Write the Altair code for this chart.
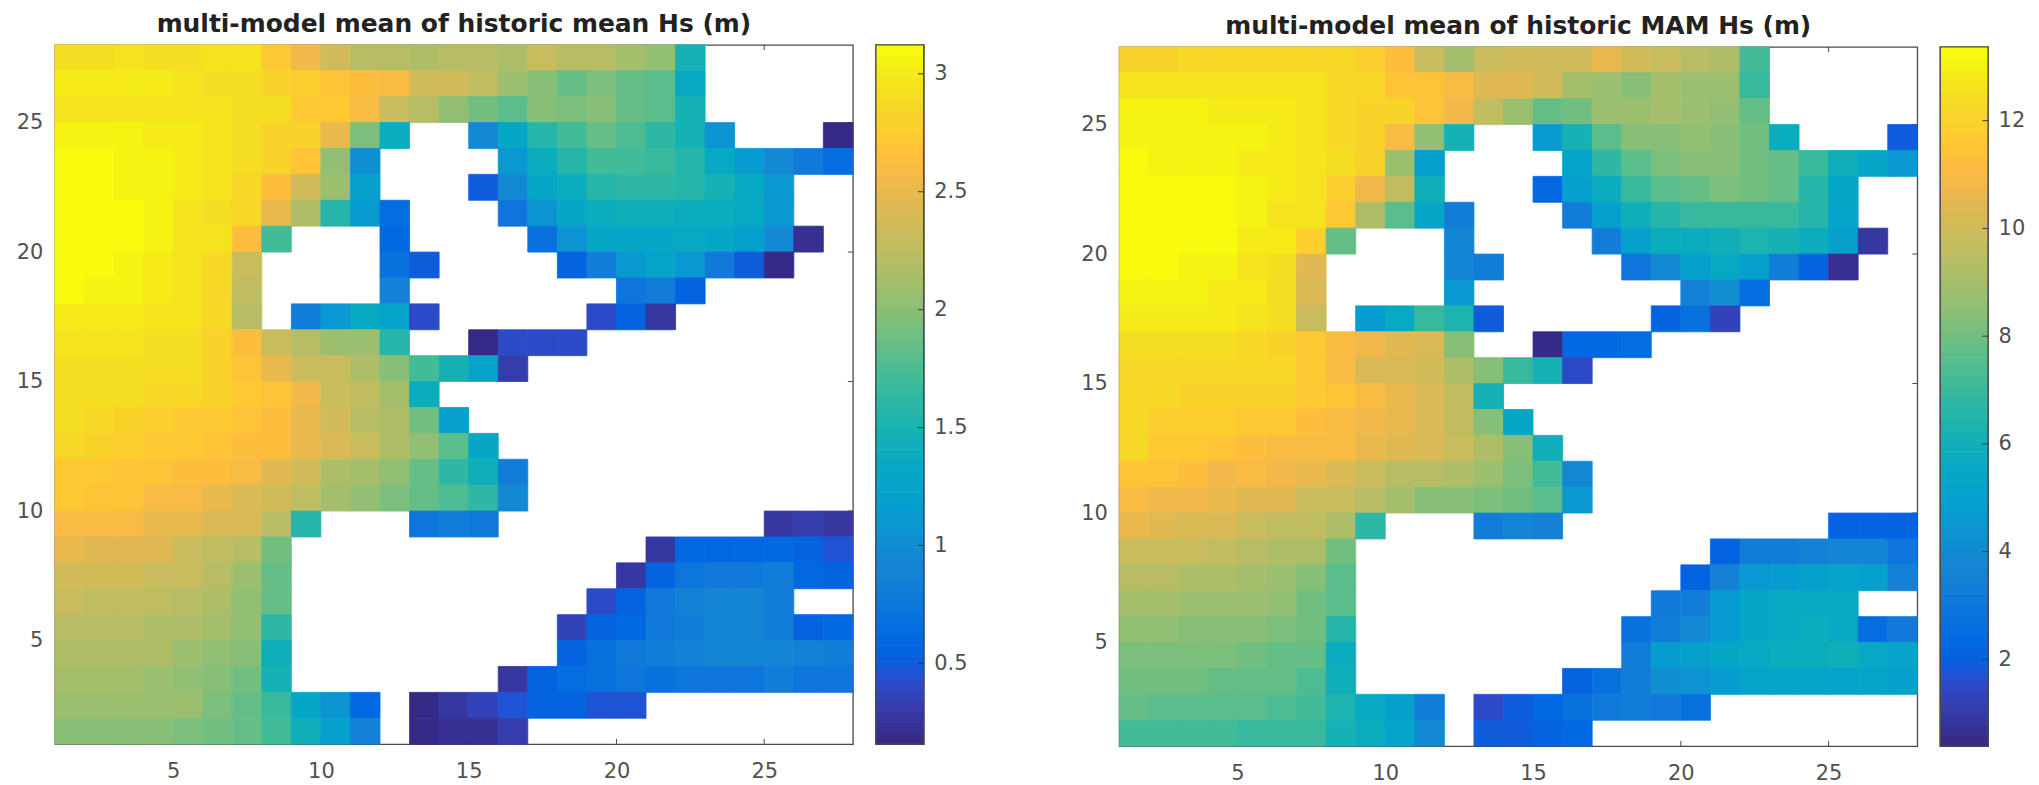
import altair as alt
import pandas as pd

N = None
NCOL = 27

# rows listed from the top of the map (y 27-28) down to the bottom (y 1-2), columns x 1-2 ... 27-28
mean_rows = [
 [2.9,2.9,2.95,2.93,2.93,2.95,2.95,2.72,2.55,2.36,2.22,2.22,2.18,2.22,2.2,2.18,2.3,2.24,2.2,2.12,2.03,1.47],
 [3,3,3,3,2.97,2.93,2.93,2.82,2.78,2.66,2.62,2.58,2.38,2.36,2.25,2.06,2.0,1.85,1.92,1.84,1.8,1.35],
 [2.98,2.98,2.98,2.98,2.97,2.95,2.93,2.9,2.72,2.72,2.6,2.33,2.2,2.05,1.88,1.8,2.0,1.96,2.0,1.85,1.8,1.47],
 [3.05,3.05,3.05,3.0,3.0,2.98,2.93,2.83,2.83,2.5,1.95,1.38,N,N,.98,1.3,1.55,1.72,1.85,1.76,1.6,1.48,1.05,N,N,N,.18],
 [3.12,3.12,3.06,3.04,3.0,2.97,2.9,2.82,2.7,2.05,1.0,N,N,N,N,1.12,1.4,1.55,1.73,1.72,1.65,1.55,1.33,1.17,.97,.78,.64],
 [3.12,3.12,3.06,3.04,3.0,2.95,2.85,2.65,2.38,2.1,1.22,N,N,N,.52,.98,1.27,1.4,1.55,1.6,1.6,1.55,1.48,1.35,1.12],
 [3.12,3.12,3.1,3.04,2.98,2.92,2.85,2.52,2.15,1.55,1.15,.66,N,N,N,.72,1.05,1.3,1.38,1.42,1.45,1.4,1.4,1.35,1.1],
 [3.12,3.12,3.08,3.05,2.97,2.95,2.65,1.73,N,N,N,.62,N,N,N,N,.68,1.08,1.28,1.3,1.3,1.33,1.3,1.18,.98,.22],
 [3.12,3.12,3.06,3.0,2.95,2.88,2.32,N,N,N,N,.68,.52,N,N,N,N,.54,.85,1.12,1.25,1.12,.76,.5,.18],
 [3.12,3.06,3.05,3.0,2.95,2.88,2.28,N,N,N,N,.88,N,N,N,N,N,N,N,.72,.82,.56],
 [3,3,3,2.95,2.95,2.88,2.22,N,.85,1.1,1.33,1.25,.4,N,N,N,N,N,.42,.54,.28],
 [2.95,2.95,2.95,2.93,2.92,2.83,2.62,2.33,2.22,2.08,2.08,1.55,N,N,.16,.4,.42,.42],
 [2.93,2.93,2.93,2.92,2.9,2.82,2.7,2.52,2.32,2.3,2.16,1.98,1.72,1.47,1.25,.32],
 [2.9,2.9,2.9,2.88,2.85,2.8,2.72,2.7,2.55,2.32,2.26,2.12,1.4],
 [2.9,2.85,2.82,2.77,2.75,2.72,2.68,2.65,2.5,2.38,2.22,2.15,1.88,1.22],
 [2.88,2.8,2.78,2.72,2.72,2.7,2.65,2.62,2.5,2.4,2.32,2.18,2.02,1.78,1.28],
 [2.74,2.74,2.7,2.7,2.65,2.65,2.58,2.45,2.34,2.18,2.12,2.03,1.86,1.62,1.42,.82],
 [2.72,2.68,2.68,2.6,2.6,2.52,2.42,2.38,2.26,2.14,2.05,1.95,1.86,1.75,1.6,.98],
 [2.6,2.6,2.6,2.52,2.5,2.42,2.4,2.2,1.55,N,N,N,.75,.82,.78,N,N,N,N,N,N,N,N,N,.28,.34,.25],
 [2.5,2.45,2.45,2.45,2.33,2.28,2.23,1.9,N,N,N,N,N,N,N,N,N,N,N,N,.27,.58,.6,.62,.62,.54,.46],
 [2.38,2.38,2.38,2.3,2.3,2.22,2.1,1.86,N,N,N,N,N,N,N,N,N,N,N,.26,.54,.72,.8,.8,.82,.6,.55],
 [2.3,2.28,2.28,2.28,2.22,2.18,2.03,1.83,N,N,N,N,N,N,N,N,N,N,.42,.55,.78,.86,.92,.92,.85],
 [2.2,2.2,2.2,2.18,2.18,2.12,2.03,1.6,N,N,N,N,N,N,N,N,N,.38,.54,.6,.76,.85,.9,.9,.82,.54,.58],
 [2.15,2.15,2.15,2.15,2.1,2.03,1.98,1.45,N,N,N,N,N,N,N,N,N,.54,.68,.78,.84,.86,.92,.92,.94,.86,.84],
 [2.12,2.12,2.12,2.06,2.05,1.98,1.88,1.5,N,N,N,N,N,N,N,.28,.56,.64,.68,.72,.7,.74,.74,.74,.82,.74,.72],
 [2.07,2.07,2.07,2.07,2.07,1.92,1.86,1.65,1.3,1.05,.6,N,.2,.26,.38,.46,.54,.54,.46,.46],
 [1.98,1.98,1.98,1.98,1.93,1.88,1.86,1.7,1.45,1.22,.88,N,.2,.24,.24,.3],
]

mam_rows = [
 [12.0,12.0,12.2,12.2,12.2,12.3,12.3,12.3,11.95,11.3,9.9,9.0,9.8,10.0,10.0,10.0,10.6,10.1,9.9,9.4,9.2,7.1],
 [12.7,12.7,12.7,12.7,12.6,12.6,12.6,12.2,12.2,11.5,11.5,11.1,10.4,10.4,10.0,9.0,8.8,8.5,9.1,8.9,8.75,6.9],
 [13.0,13.0,13.0,12.8,12.8,12.8,12.7,12.2,12.0,12.0,11.4,10.8,9.6,8.9,7.85,8.0,8.85,8.85,9.0,8.8,8.6,7.7],
 [13.0,13.0,13.0,13.15,13.15,12.9,12.6,12.3,12.0,11.1,8.55,6.2,N,N,4.7,6.2,7.6,8.35,8.5,8.55,8.3,8.0,5.85,N,N,N,2.0],
 [13.37,13.05,13.05,13.05,12.85,12.85,12.7,12.4,12.0,8.9,5.0,N,N,N,N,5.1,6.7,7.6,8.1,8.4,8.4,7.9,7.7,7.0,6.05,5.4,4.5],
 [13.37,13.37,13.37,13.37,13.1,12.95,12.6,11.8,10.9,9.6,5.9,N,N,N,2.3,5.0,5.8,7.0,7.6,7.85,8.1,7.95,7.85,6.5,5.4],
 [13.37,13.37,13.37,13.37,13.15,12.65,12.6,11.6,9.3,7.5,5.3,3.3,N,N,N,3.4,5.0,6.0,6.5,6.9,6.9,6.9,6.9,6.5,5.2],
 [13.37,13.37,13.37,13.37,12.9,12.8,11.9,7.7,N,N,N,3.7,N,N,N,N,3.3,4.9,5.7,5.7,6.0,6.4,6.25,5.8,5.0,.9],
 [13.37,13.37,13.0,13.0,12.7,12.4,10.4,N,N,N,N,3.7,3.3,N,N,N,N,2.9,4.0,5.0,5.5,5.0,3.4,2.1,.6],
 [13.0,13.0,13.0,12.8,12.8,12.5,10.3,N,N,N,N,4.6,N,N,N,N,N,N,N,3.5,4.2,2.6],
 [12.8,12.8,12.8,12.8,12.7,12.4,9.9,N,4.7,5.5,6.9,6.3,1.9,N,N,N,N,N,2.2,2.8,1.3],
 [12.5,12.5,12.5,12.5,12.3,12.1,11.7,11.05,10.8,10.4,10.2,8.3,N,N,.4,2.3,2.4,2.55],
 [12.35,12.35,12.35,12.35,12.35,12.2,11.7,11.1,10.3,10.3,10.1,9.3,8.4,7.0,6.2,1.5],
 [12.3,12.3,12.1,12.1,12.1,12.05,11.7,11.4,11.0,10.7,10.2,9.6,6.1],
 [12.3,11.8,11.8,11.8,11.6,11.6,11.2,11.1,10.9,10.7,10.2,9.7,8.4,5.4],
 [12.2,11.7,11.7,11.5,11.2,11.1,11.05,11.0,10.65,10.35,10.3,9.8,9.2,8.5,6.0],
 [11.5,11.4,11.2,10.9,10.95,10.85,10.6,10.3,9.9,9.5,9.4,9.2,8.9,8.1,7.1,4.0],
 [11.0,10.9,10.75,10.7,10.45,10.4,9.9,9.85,9.5,8.95,8.5,8.45,8.2,8.0,7.5,4.6],
 [10.7,10.5,10.2,10.2,9.9,9.7,9.7,9.2,6.8,N,N,N,3.3,3.7,3.5,N,N,N,N,N,N,N,N,N,2.2,2.2,2.1],
 [9.85,9.85,9.85,9.7,9.5,9.2,9.2,8.0,N,N,N,N,N,N,N,N,N,N,N,N,2.2,3.3,3.3,3.5,3.7,3.8,2.9],
 [9.4,9.4,9.25,9.25,9.0,8.9,8.5,7.65,N,N,N,N,N,N,N,N,N,N,N,2.1,3.5,4.6,4.7,5.0,5.2,5.0,3.6],
 [9.0,9.0,8.9,8.9,8.85,8.6,8.0,7.55,N,N,N,N,N,N,N,N,N,N,3.1,3.4,4.8,5.4,5.6,5.6,5.5],
 [8.6,8.6,8.5,8.5,8.3,8.1,8.0,6.5,N,N,N,N,N,N,N,N,N,2.8,3.3,4.0,4.8,5.3,5.5,5.7,5.5,2.5,3.2],
 [8.15,8.15,8.1,8.1,7.9,7.85,7.85,5.8,N,N,N,N,N,N,N,N,N,3.4,4.7,5.0,5.4,5.6,5.8,5.8,6.0,5.5,5.2],
 [7.9,7.9,7.9,7.8,7.8,7.75,7.3,5.9,N,N,N,N,N,N,N,2.2,2.7,3.4,4.2,4.3,4.7,5.1,5.1,5.1,5.2,5.1,4.9],
 [7.75,7.6,7.6,7.6,7.6,7.45,7.2,6.4,5.5,4.9,3.3,N,1.5,2.0,2.4,2.7,3.2,3.3,3.1,2.8],
 [7.1,7.2,7.2,7.2,7.0,7.0,6.95,6.2,5.75,5.2,4.0,N,1.85,2.0,2.1,2.3],
]

parula = [
 (0.2081,0.1663,0.5292),(0.2116,0.1898,0.5777),(0.2123,0.2138,0.6270),(0.2081,0.2386,0.6771),
 (0.1959,0.2645,0.7279),(0.1707,0.2919,0.7792),(0.1253,0.3242,0.8303),(0.0591,0.3598,0.8683),
 (0.0117,0.3875,0.8820),(0.0060,0.4086,0.8828),(0.0165,0.4266,0.8786),(0.0329,0.4430,0.8720),
 (0.0498,0.4586,0.8641),(0.0629,0.4737,0.8554),(0.0723,0.4887,0.8467),(0.0779,0.5040,0.8384),
 (0.0793,0.5200,0.8312),(0.0749,0.5375,0.8263),(0.0641,0.5570,0.8240),(0.0488,0.5772,0.8228),
 (0.0343,0.5966,0.8199),(0.0265,0.6137,0.8135),(0.0239,0.6287,0.8038),(0.0231,0.6418,0.7913),
 (0.0228,0.6535,0.7768),(0.0267,0.6642,0.7607),(0.0384,0.6743,0.7436),(0.0590,0.6838,0.7254),
 (0.0843,0.6928,0.7062),(0.1133,0.7015,0.6859),(0.1453,0.7098,0.6646),(0.1801,0.7177,0.6424),
 (0.2178,0.7250,0.6193),(0.2586,0.7317,0.5954),(0.3022,0.7376,0.5712),(0.3482,0.7424,0.5473),
 (0.3953,0.7459,0.5244),(0.4420,0.7481,0.5033),(0.4871,0.7491,0.4840),(0.5300,0.7491,0.4661),
 (0.5709,0.7485,0.4494),(0.6099,0.7473,0.4337),(0.6473,0.7456,0.4188),(0.6834,0.7435,0.4044),
 (0.7184,0.7411,0.3905),(0.7525,0.7384,0.3768),(0.7858,0.7356,0.3633),(0.8185,0.7327,0.3498),
 (0.8507,0.7299,0.3360),(0.8824,0.7274,0.3217),(0.9139,0.7258,0.3063),(0.9450,0.7261,0.2886),
 (0.9739,0.7314,0.2666),(0.9938,0.7455,0.2403),(0.9990,0.7653,0.2164),(0.9955,0.7861,0.1967),
 (0.9880,0.8066,0.1794),(0.9789,0.8271,0.1633),(0.9697,0.8481,0.1475),(0.9626,0.8705,0.1309),
 (0.9589,0.8949,0.1132),(0.9598,0.9218,0.0948),(0.9661,0.9514,0.0755),(0.9763,0.9831,0.0538),
]
PARULA = ["#%02x%02x%02x" % tuple(round(c * 255) for c in rgb) for rgb in parula]

titles = ["multi-model mean of historic mean Hs (m)", "multi-model mean of historic MAM Hs (m)"]
ranges = [(0.157, 3.123), (0.39, 13.37)]
cbar_ticks = [[0.5, 1, 1.5, 2, 2.5, 3], [2, 4, 6, 8, 10, 12]]
map_ticks = [5, 10, 15, 20, 25]

FRAME = "#4a4a4a"
LABEL = "#505050"
W, H, CBW = 800, 701, 48


def panel(rows, title, dom):
    recs = []
    for i, row in enumerate(rows):
        row = row + [N] * (NCOL - len(row))
        for j, v in enumerate(row):
            if v is not None:
                recs.append({"x": j + 1, "x2": j + 2, "y": 27 - i, "y2": 28 - i, "v": v})
    df = pd.DataFrame(recs)
    xs = alt.Scale(domain=[1, 28], nice=False, zero=False)
    ys = alt.Scale(domain=[1, 28], nice=False, zero=False)
    cs = alt.Scale(type="quantize", domain=list(dom), range=PARULA)
    xax = alt.Axis(values=map_ticks, title=None, grid=False, domain=False, ticks=False, labelPadding=16)
    yax = alt.Axis(values=map_ticks, title=None, grid=False, domain=False, ticks=False, labelPadding=12)
    tx = 0.17
    ty = 0.2
    t1 = pd.DataFrame({"p": map_ticks, "a": [1] * 5, "b": [1 + ty] * 5})
    t2 = pd.DataFrame({"p": map_ticks, "a": [28 - ty] * 5, "b": [28] * 5})
    t3 = pd.DataFrame({"p": map_ticks, "a": [28 - tx] * 5, "b": [28] * 5})
    rule = dict(color=FRAME, strokeWidth=1)
    layers = []
    for t in (t1, t2):
        layers.append(alt.Chart(t).mark_rule(**rule).encode(
            x=alt.X("p:Q", scale=xs, axis=xax), y=alt.Y("a:Q", scale=ys, axis=yax), y2="b:Q"))
    layers.append(alt.Chart(t3).mark_rule(**rule).encode(
        x=alt.X("a:Q", scale=xs, axis=xax), x2="b:Q", y=alt.Y("p:Q", scale=ys, axis=yax)))
    cells = alt.Chart(df).mark_rect(strokeWidth=0.8).encode(
        x=alt.X("x:Q", scale=xs, axis=xax), x2="x2:Q",
        y=alt.Y("y:Q", scale=ys, axis=yax), y2="y2:Q",
        color=alt.Color("v:Q", scale=cs, legend=None),
        stroke=alt.Stroke("v:Q", scale=cs, legend=None),
    )
    return alt.layer(*layers, cells).properties(
        width=W, height=H,
        title=alt.TitleParams(title, font="DejaVu Sans", fontSize=25, fontWeight="bold", color="#222222", offset=7),
    )


def colorbar(dom, ticks):
    lo, hi = dom
    n = len(PARULA)
    step = (hi - lo) / n
    df = pd.DataFrame({
        "a": [lo + i * step for i in range(n)],
        "b": [lo + (i + 1) * step for i in range(n)],
        "v": [lo + (i + 0.5) * step for i in range(n)],
        "l": [0.0] * n, "r": [1.0] * n,
    })
    xs = alt.Scale(domain=[0, 1], nice=False, zero=False)
    ys = alt.Scale(domain=[lo, hi], nice=False, zero=False)
    yax = alt.Axis(orient="right", values=ticks, format="~g", title=None, grid=False, domain=False,
                   ticks=False, labelPadding=10)
    cs = alt.Scale(type="quantize", domain=[lo, hi], range=PARULA)
    bars = alt.Chart(df).mark_rect(strokeWidth=0.8).encode(
        x=alt.X("l:Q", scale=xs, axis=None), x2="r:Q",
        y=alt.Y("a:Q", scale=ys, axis=yax), y2="b:Q",
        color=alt.Color("v:Q", scale=cs, legend=None),
        stroke=alt.Stroke("v:Q", scale=cs, legend=None),
    )
    tk = pd.DataFrame({"p": ticks, "a": [0.88] * len(ticks), "b": [1.0] * len(ticks)})
    tickmarks = alt.Chart(tk).mark_rule(color="#333333", strokeWidth=1).encode(
        x=alt.X("a:Q", scale=xs, axis=None), x2="b:Q", y=alt.Y("p:Q", scale=ys, axis=yax))
    edge = pd.DataFrame({"l": [0.0], "r": [1.0], "a": [lo], "b": [hi]})
    border = alt.Chart(edge).mark_rect(filled=False, stroke=FRAME, strokeWidth=1.4).encode(
        x=alt.X("l:Q", scale=xs, axis=None), x2="r:Q", y=alt.Y("a:Q", scale=ys, axis=yax), y2="b:Q")
    return alt.layer(bars, tickmarks, border).properties(width=CBW, height=H)


left = alt.hconcat(panel(mean_rows, titles[0], ranges[0]), colorbar(ranges[0], cbar_ticks[0]),
                   spacing=23, bounds="flush").resolve_scale(color="independent", stroke="independent")
right = alt.hconcat(panel(mam_rows, titles[1], ranges[1]), colorbar(ranges[1], cbar_ticks[1]),
                    spacing=23, bounds="flush").resolve_scale(color="independent", stroke="independent")
spacer = alt.Chart(pd.DataFrame({"s": [0]})).mark_point(opacity=0).encode(
    x=alt.X("s:Q", axis=None), y=alt.Y("s:Q", axis=None)
).properties(width=1, height=2, view=alt.ViewBackground(stroke=None))
right_shifted = alt.vconcat(spacer, right, spacing=0, bounds="flush")

chart = alt.hconcat(left, right_shifted, spacing=111).resolve_scale(
    color="independent", stroke="independent"
).properties(
    padding={"left": 7, "top": 2, "right": 5, "bottom": 5}
).configure_view(
    stroke=FRAME, strokeWidth=1.3
).configure_axis(
    labelFont="DejaVu Sans", labelFontSize=21, labelColor=LABEL
)

chart.save("out.html", embed_options={"renderer": "svg", "actions": False})
